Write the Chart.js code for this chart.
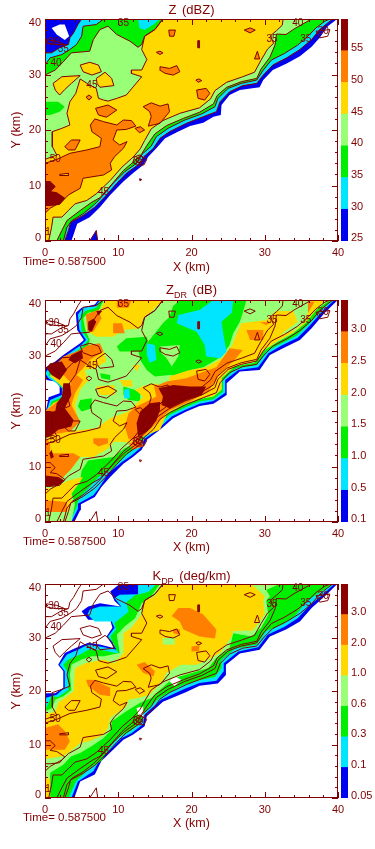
<!DOCTYPE html>
<html>
<head>
<meta charset="utf-8">
<style>
html,body{margin:0;padding:0;background:#fff}
#page{position:relative;width:375px;height:849px;overflow:hidden;font-family:"Liberation Sans",sans-serif;color:#800000}
canvas{position:absolute}
.ttl{position:absolute;left:45px;width:293px;text-align:center;font-size:13px;line-height:16px;word-spacing:2px}
.ttl sub{font-size:9px;line-height:0}
.time{position:absolute;left:23px;font-size:11.5px;line-height:14px;white-space:nowrap}
</style>
</head>
<body>
<div id="page">
  <canvas id="c1" width="375" height="280" style="left:0;top:0"></canvas>
  <canvas id="b1" width="34" height="280" style="left:341px;top:0"></canvas>
  <canvas id="c2" width="375" height="285" style="left:0;top:280px"></canvas>
  <canvas id="b2" width="34" height="285" style="left:341px;top:280px"></canvas>
  <canvas id="c3" width="375" height="284" style="left:0;top:565px"></canvas>
  <canvas id="b3" width="34" height="284" style="left:341px;top:565px"></canvas>
  <div class="ttl" style="top:2px">Z (dBZ)</div>
  <div class="ttl" style="top:282px">Z<sub>DR</sub> (dB)</div>
  <div class="ttl" style="top:568px">K<sub>DP</sub> (deg/km)</div>
  <div class="time" style="top:254px">Time= 0.587500</div>
  <div class="time" style="top:534px">Time= 0.587500</div>
  <div class="time" style="top:810px">Time= 0.587500</div>
</div>
<script src="https://cdn.jsdelivr.net/npm/chart.js@4"></script>
<script>
const BLUE='#0000f0',CYAN='#00e5ff',GREEN='#00ee00',LGREEN='#99ff77',YELLOW='#ffd800',ORANGE='#ff7f00',DARK='#8b0000',WHITE='#ffffff';
const TEXT='#800000';
const bandColors=[BLUE,CYAN,GREEN,LGREEN,YELLOW,ORANGE,DARK];

const zLevels=['25','30','35','40','45','50','55'];
const zdrLevels=['0.1','0.5','1.0','1.5','2.0','2.5','3.0'];
const kdpLevels=['0.05','0.1','0.3','0.6','1.0','2.0','3.0'];
const xTicks=[0,10,20,30,40];
const yTickLabels=['0','10','20','30','40'];

// Z field, contour polygons in km
const z25=[[3.6,0],[4.4,3.1],[6.1,4.3],[7.5,6.1],[8.9,8.3],[10.7,10.7],[12,12.2],[13.4,13.7],[14.1,15.2],[15.2,16.7],[16.4,18.5],[18,19.6],[19.8,20.7],[21.6,21.3],[23,22.4],[24,22.7],[24.1,24.5],[25.2,26.3],[26.6,27.2],[29.3,27.7],[29.8,29],[31.1,30.8],[33,32],[34.8,33.3],[36.4,35],[37.5,36.6],[38.6,38.7],[39.9,40],[0,40],[0,0]];
const z25Island=[[6.1,0],[7,1.9],[7.2,0]];
const zSpeck=[[12.9,11.2],[13.2,11.1],[13,10.8]];
const zHole=[[0.9,38.4],[2,39],[2.7,39],[3.3,36.9],[2.7,36.2],[1.6,37.2]];
const z30=[[2.7,0],[3.2,1.9],[3.5,3.4],[5.2,4.6],[6.8,6.1],[8.2,8],[9.8,10.4],[11.1,12.2],[12.7,13.7],[13.5,15.2],[14.8,16.7],[15.7,18.5],[17,19.7],[19.3,21.2],[21.6,22.4],[23.4,23.3],[23.9,25.1],[25.2,26.9],[27,28],[28.9,28.4],[29.8,29.9],[31.1,31.7],[33,33],[34.8,34.5],[36.4,36.3],[37.5,38.1],[38.6,39.3],[39.3,40],[5,40],[4.5,39],[3.9,37.5],[3.4,36.6],[3.2,35.4],[2,34.8],[0.9,33.9],[0,33.9],[0,0]];
const z35=[[2.5,0],[3,2.5],[3.7,3.7],[5.2,4.9],[6.6,6.4],[7.5,7.6],[9.3,10.4],[10.9,12.5],[12.5,14],[13.3,15.7],[14.5,17.1],[15.2,18.8],[16.8,20.3],[19.1,21.8],[21.4,22.9],[23.2,24.2],[23.6,25.7],[25,27.5],[26.8,28.4],[28.9,29],[29.8,30.8],[30.9,32.6],[32.7,33.8],[34.5,35.3],[35.9,36.9],[37,38.4],[38.2,39.6],[38.9,40],[8,40],[7,39],[5.2,38.7],[5,36.9],[4.3,35.4],[3.4,34.5],[2.3,33.6],[0.7,33],[0,31.7],[0,0]];
const z35Gap=[[12.7,40],[12.9,38.4],[13.6,38],[14.8,39],[15.7,40]];
const z40=[[1.6,0],[2.3,1.9],[3,3.7],[4.8,5.5],[6.4,7],[7.5,7.8],[9.1,10.2],[10.7,12.7],[12.3,14.5],[13.2,15.7],[13.9,17.2],[15,19.3],[16.6,20.8],[18.9,22.1],[21.1,23.2],[23,24.7],[23.5,26.2],[24.8,27.7],[26.8,28.7],[28.9,29.3],[29.5,31],[30.7,33.1],[31.4,35.3],[31.6,37.3],[32.9,37.2],[34,38.2],[36.4,40],[16.1,40],[15,38.1],[13.6,36.9],[13.2,35.4],[12.7,34.9],[11.6,36],[9.8,37.2],[8.6,38.7],[7.5,38.1],[6.6,36.3],[6.1,34.2],[3.6,33.9],[2.5,32.3],[1.4,30.8],[0,29.9],[0,0]];
const z40Gap=[[0,25.1],[1.8,25.1],[2.7,24.2],[2,23.3],[0.7,22.7],[0,22.7]];
const z45=[[0.5,0],[0.9,2.5],[1.1,4.3],[2.3,4.3],[3.2,5.5],[4.1,6.7],[5.7,7.3],[7,8.5],[8.9,10.9],[10.5,13.3],[12.1,15.2],[13,16.6],[13.6,18.1],[14.5,20.2],[16.1,21.7],[18.4,23],[21.1,24],[22.6,25.6],[23.2,27.1],[24.8,28.6],[26.8,29.5],[28.6,30.4],[29.5,32.6],[30.4,34.6],[31.2,35.6],[30.8,37],[31.6,37.9],[32.4,38.9],[32.5,40],[16.1,40],[15,38.1],[13.6,36.9],[13.2,34.5],[13.9,32.7],[13.2,30.8],[11.8,30.8],[11.8,30.2],[13.2,29.6],[11.1,26.3],[9.8,25.7],[8.6,25.2],[8,25.4],[7.3,25.7],[7,27.5],[6.1,28.1],[4.8,29.2],[4.2,26.6],[3.4,25.1],[3,23],[3.4,20.9],[2.3,20.3],[1,19.7],[1,17],[1.6,15.5],[0,14.7],[0,0]];
const z45A=[[4.8,31.7],[6.1,32.2],[7.3,31.7],[7.7,30.5],[6.4,29.9],[5.2,30.5]];
const z45B=[[7,29.3],[8.2,30.4],[9.1,29.3],[9.4,28],[7.5,27.7],[7.1,28.4]];
const z45C=[[1.1,28.4],[2.3,29.6],[4.8,29.8],[3.6,28.4],[2.7,27.3],[2,26.3],[1.4,27.2]];
const z50Main=[[0,14],[1.6,14.7],[3.4,15.8],[5.7,16.4],[7.5,17],[7.7,18.5],[6.4,19.7],[6.2,20.9],[6.8,22],[8,21.5],[9.8,20.9],[10.7,21.8],[11.8,21.7],[12.4,20.7],[11.1,20.1],[9.8,20],[9.3,18.2],[10.2,17.3],[11.2,17.9],[10.7,16.7],[9.5,15.2],[8.9,14],[9.1,12.8],[8,11.9],[5.2,11.3],[4.8,9.5],[3.2,8.3],[2.3,7.1],[0.7,5.9],[0,5]];
const z50List=[
  [[13.4,24.2],[14.5,24.9],[15.7,24.3],[16.8,24.7],[17,23.3],[15.7,21.2],[14.1,20.7],[14.5,22.4],[14.3,23.3]],
  [[6.9,23.9],[8.6,24.5],[9.8,23.6],[8.4,22.3],[7.3,22.7]],
  [[2.7,17],[3.6,18.2],[4.8,18.2],[4.1,16.4],[3.2,16.4]],
  [[15.7,31.4],[17,31.1],[18,31.6],[18.4,30.5],[17.5,29.9],[16.4,30.2],[15.8,30.7]],
  [[20.7,27.2],[22,27.5],[22.5,26.6],[21.8,25.4],[20.9,25.7]],
  [[16.9,38],[17.8,38],[17.6,36.9],[17,36.9]],
  [[27.2,38],[28,38.4],[28.7,38],[28,37.5]],
  [[28.6,32.8],[29,34.2],[29.3,32.8]],
  [[5.6,25.9],[6,26.3],[6.4,25.9],[6,25.4]],
  [[12.3,20.3],[13,20.6],[13.6,20],[12.9,19.5]],
  [[20.6,29],[21,29.2],[21.4,28.9],[20.9,28.6]],
  [[15.2,34],[15.7,34.2],[16.1,33.9],[15.7,33.6]]
];
const z50Gap=[[2,12],[3.2,12.2],[3.2,11.8],[2,11.8]];
const z55=[[0,10.7],[0.7,10.7],[1.4,9.8],[0.7,8.9],[1.6,8.7],[2.7,7.7],[2,6.6],[0.7,6.4],[0,6.4]];
const z55Bar=[[20.9,34.8],[21.1,34.8],[21.1,36.1],[20.9,36.1]];
const zNoise=[
  [[12.3,15.2],[12.9,15.5],[13.9,14.7],[13.5,13.7],[12.5,13.7],[12,14.3]],
  [[12.6,15],[13.3,14.6],[13,14],[12.4,14.4]],
  [[0.2,36.3],[1.6,36],[2.7,35.4],[1.4,35.4],[0.2,35.7]],
  [[37,37.8],[38.9,38.1],[38.6,36.9],[37.5,36.6]]
];
const contourText=['35','35','30','40','45','50','45','35','40','35','30','30','1'];
const contourX=[10.7,2.5,1.2,1.5,6.4,1.4,8,31,34.5,35.6,38,12.7,0.4];
const contourY=[39.3,34.5,35.8,32,28.1,14.8,8.7,36.3,39.2,36.4,37.8,14.3,1.6];

// ZDR field
const dr01=[[4,0],[4.8,2.1],[4.9,3.2],[6.8,4.5],[7.7,6.3],[8.9,8.1],[10.7,10.5],[12,11.7],[13.2,13],[13.9,14.8],[15.7,16.6],[17.5,18.7],[19.3,19.9],[21.1,20.9],[23,21.3],[24.8,22.9],[24.8,25],[26.6,27.1],[29.3,27.4],[30.7,30.1],[32.5,31.3],[34.8,32.8],[36.4,34.9],[38.2,37.7],[39.9,39.9],[39.9,40],[7.3,40],[6.8,39.2],[5,38.6],[4.2,37.7],[4.4,34.6],[5.3,32.8],[4.8,32.2],[2.5,30.1],[1.4,28.9],[0.1,27.9],[0,27.9],[0,26.2],[0.2,25.6],[1.4,25.3],[2,24.4],[2,23.2],[0.5,22.5],[0.1,19.9],[0,19.9],[0,0]];
const dr05=[[3.6,0],[4.5,2.4],[4.5,3.3],[6.6,4.8],[7.3,6],[8.6,8.7],[10.5,10.8],[11.8,12],[12.9,13.2],[13.6,15],[15.2,16.5],[17.3,19],[19.1,20.2],[21.1,21.3],[23,21.8],[24.6,23.3],[24.6,25.6],[26.4,27.4],[29.1,27.9],[30.5,30.4],[32.3,31.8],[34.5,33.2],[36.1,35.3],[37.9,38],[39.5,40],[7.5,40],[6.9,38.9],[5.2,38.6],[4.5,37.4],[4.7,34.6],[5.6,32.8],[5,32],[2.7,29.8],[1.6,28.6],[0.5,27.7],[0.2,27.1],[0,26.8],[0.5,25.9],[1.6,25],[2.3,24.1],[2.3,22.9],[0.7,22],[0.2,19.9],[0,19.9],[0,0]];
const dr10=[[3.4,0],[4.3,2.7],[4.7,4.5],[5.9,6],[7.3,8.1],[8.9,9.3],[10.5,11.4],[11.6,12.6],[12.7,13.6],[13.5,15.3],[15,16.9],[17,19.3],[18.9,20.5],[21.1,21.7],[23,22.1],[24.3,23.5],[24.3,25.6],[26.1,27.7],[28.9,28.3],[30.2,30.7],[32,32],[34.3,33.5],[35.9,35.5],[37.7,38.2],[39.3,40],[7.7,40],[7,38.6],[5.5,38],[4.9,37.1],[5,34.6],[5.9,32.8],[5.2,31.6],[2.9,29.5],[1.8,28.3],[0.7,27.4],[0.5,26.5],[1.8,25],[2.6,23.8],[2.6,22.6],[0.9,21.7],[0.5,19.9],[0,19.9],[0,0]];
const dr15=[[3.6,0],[4.1,3.3],[3.6,5.1],[4.8,7.2],[5,9.3],[5.9,11.1],[9.3,11.7],[10.9,13.3],[12,13.9],[13.4,15.4],[15,17.2],[16.8,19.6],[18.6,20.9],[21.1,22.1],[23,22.6],[24.1,23.8],[24.1,25.9],[25.9,28],[28.6,28.7],[30,31],[31.8,32.5],[33.9,34],[35.5,35.8],[37,38.2],[38.9,40],[8,40],[7.3,38],[5.9,37.7],[5.2,36.7],[5.5,34.6],[6.1,32.8],[5.8,31.3],[3.2,29.2],[2,28],[0.9,27.1],[0.7,26.2],[2.3,24.5],[2.9,23.2],[2.9,22.3],[1.1,21.4],[0.7,19.9],[0,19.9],[0,0]];
const drGreen=[
  [[18.4,40],[27.5,40],[27,37.7],[26.6,36.1],[25.7,34],[25.2,31.9],[24.1,29.8],[23,28.9],[21.6,27.9],[19.8,27.4],[18.9,26.2],[17,26.5],[15,26.2],[13.9,27.4],[13,29.2],[12.7,31.3],[13.9,32.2],[15,34],[16.1,35.8],[17,37],[17.5,38.9]],
  [[10.2,30.7],[9.8,31.6],[11.1,33.1],[13.9,33.4],[14.1,32.2],[13,30.7]],
  [[4.8,22],[6.4,22.3],[6.4,20.5],[5,19.9],[4.5,20.8]],
  [[10.7,24.4],[13,23.5],[13,21.7],[11.4,22],[10.7,22.9]],
  [[7.5,26.8],[8.9,26.5],[8.9,25.6],[7.7,25.9]],
  [[9.1,17.8],[10.2,18.4],[10.9,16.9],[9.5,16.6]]
];
const drLGreenIsle=[[15.7,31.6],[18.4,31.9],[18.2,29.8],[17.3,28],[16.6,29.5],[15.9,30.4]];
const drCyan=[
  [[23,40],[25.7,40],[25.5,37.7],[24.1,36.1],[24.4,33.4],[24.8,30.7],[23.9,29.5],[22,29.8],[21.8,31.9],[20.7,34.3],[18,35.8],[18.2,37.3],[21.1,38.2]],
  [[13.9,32.2],[15,31.9],[15.2,29.2],[14.3,28.7],[13.9,30.1]],
  [[10.8,23.8],[11.5,24.1],[11.6,22.3],[10.8,22.3]]
];
const drYellow=[
  [[8.2,40],[16.1,40],[15,38.5],[13.4,36.7],[13,34.9],[10.7,34.6],[9.3,33.4],[7,33.4],[5.9,34.3],[5.8,35.8],[6.6,37.3],[7.5,38]],
  [[17,26.2],[19.5,27.3],[22,27.9],[24.2,29.5],[25.5,31.7],[26.1,33.7],[26.8,35.8],[28.4,36.1],[30.2,36.4],[31.6,38],[33.9,38],[34.5,36.1],[33,34.6],[32,33.7],[34.1,34.6],[35.5,36.1],[36.4,40],[38.2,40],[37,38.2],[35.5,35.8],[33.9,34.2],[31.8,32.6],[30,31.1],[28.6,28.9],[25.9,28.1],[24.1,26],[24.1,23.9],[23,22.7],[21.1,22.2],[18.6,21],[16.8,19.7]],
  [[0,14.2],[0.7,15.7],[3.6,16.4],[7,16.9],[8.9,18.7],[11.4,19.9],[12.3,21.1],[13.4,22.6],[12.3,23.8],[13.4,24.5],[15.2,25],[16.6,23.2],[17,20.5],[15.7,16.6],[13.4,15.4],[11.8,14.3],[9.5,14.5],[8.4,13],[6.6,11.7],[4.8,11.7],[3.6,9.6],[2,7.5],[0,6.3]],
  [[0,6],[1.4,6.3],[3.2,7.5],[5.2,8.1],[3.6,5.1],[3.6,3.3],[3.2,1.8],[0,1.8]],
  [[5.8,31.3],[8,30.7],[8.4,28.9],[6.8,27.7],[5.4,27.4],[5.9,25.6],[4.8,23.8],[4.1,21.1],[4.5,18.4],[3.4,16.3],[0,15.4],[0,19.9],[1.1,21.4],[3,22.6],[3,23.2],[2.3,24.5],[0.8,26.2],[0.9,27.1],[3.2,29.2]],
  [[12,28.3],[13,28.3],[12.5,27.1]],
  [[7,24.4],[9.5,24.7],[9.5,22.9],[7.5,22.9]],
  [[10.2,25.6],[11.8,25.6],[12,24.4],[10.7,24.4]]
];
const drOrange=[
  [[0,15.4],[0.7,14.2],[0.7,12.4],[2.5,12.4],[3.9,12.4],[4.8,11.7],[3.6,9.6],[2.5,8.1],[1.6,6.6],[0,6.3]],
  [[0,3.9],[3,3.6],[3,1.8],[0,1.8]],
  [[0,19.9],[1.4,21.4],[2.7,22.6],[3.6,25],[2.5,26.5],[1.6,25.9],[1.1,27.7],[2.5,29.8],[4.8,31],[5.9,31.9],[7.5,32.2],[8,30.7],[6.1,29.2],[5.2,27.7],[4.3,26.5],[5.2,25.6],[4.1,23.2],[3.6,21.1],[4.8,18.1],[3.4,16.3],[0,15.5]],
  [[5.6,37.4],[7.3,38.3],[7.7,36.7],[6.6,34.3],[5.8,34.3]],
  [[9.3,35.8],[10.5,35.8],[10.9,34],[9.3,34]],
  [[9.8,40],[11.8,40],[11.4,38.6],[9.8,38.6]],
  [[10.9,17.2],[11.4,19.6],[12.5,20.8],[13.9,21.7],[15.2,22.6],[14.9,24.4],[16.6,25.3],[19.3,25.9],[21.1,26.8],[23.4,27.9],[25.2,31.3],[27,31],[25.7,28.9],[23.9,26.8],[22.3,23.5],[19.8,21.7],[17,20.1],[15.2,17.8],[14.1,16.3],[12.5,14.3],[11.4,15]],
  [[6.6,15.1],[8.6,15.1],[8.6,14.2],[7.3,13.6],[6.6,14.2]],
  [[27.5,34.6],[29.8,34.6],[29.8,32.8],[28,32.8]],
  [[29.3,36],[30.9,36],[30.2,35.5]],
  [[35.9,39.7],[36.8,39.7],[35.9,37.7]],
  [[11.4,14.2],[13.4,14.8],[13.4,13.6],[12,13]]
];
const drDark=[
  [[0,19.9],[1.4,19.9],[1.6,21.4],[2.3,22.6],[2.5,25],[3.4,25],[3.6,22.9],[2.7,20.5],[3.9,18.4],[3.6,17.2],[1.8,16.6],[0.7,15.4],[0,15.1]],
  [[0.7,28.6],[2.3,28.9],[3,27.4],[2,25.6],[0.9,26.5],[0.2,27.7]],
  [[3.6,30.1],[5,31],[5.2,29.5],[4.1,28.6],[3.2,29.2]],
  [[0,8.4],[1.8,8.1],[2.7,7.5],[1.8,6.6],[0,6.4]],
  [[5.9,36.1],[6.6,36.6],[7,36.1],[6.4,34.3],[5.9,34.6]],
  [[7,38],[7.8,38],[7.3,37.2]],
  [[12.5,17.8],[13,19.9],[14.3,21.4],[15.7,21.6],[15.7,20.2],[15.2,18.3],[13.9,16.3],[12.7,15.4]],
  [[15.5,24.1],[17.5,24.7],[19.8,24.4],[22,24.4],[21.4,22.9],[19.3,22],[17,20.5],[15.9,21.1],[16.1,22.6]],
  [[0.9,13],[1.2,11.7],[0.8,11.4],[0.6,12.4]]
];

// KDP field
const kd005=[[4,0],[4.8,3.1],[6.8,4.4],[7.7,6.9],[9.3,9],[10.7,10.9],[12,11.8],[13.6,13.4],[13.9,15.3],[16.1,18],[19.3,19.8],[21.1,21],[23.6,21.4],[24.7,23],[24.7,24.9],[26.6,27],[29.3,27.7],[30.7,30.2],[32.9,31.5],[34.8,33],[36.4,35.5],[38.2,37.7],[39.9,40],[10.2,40],[8.9,38.6],[9.5,36.8],[10.3,35.8],[7.5,36.4],[5.9,35.8],[5,34.9],[5.9,33.3],[8.9,33.3],[9.2,31.8],[8.4,30.2],[9.5,28],[7.5,28.7],[5.9,29],[4.1,28],[2.7,27.1],[1.8,24.9],[2.5,23.7],[2.5,20.6],[1.4,19.6],[0,19.6],[0,0]];
const kd01=[[3.6,0],[4.5,3.1],[6.6,5],[7.5,7.2],[9.1,9.3],[10.5,11.2],[11.8,12.1],[13.4,13.8],[13.6,15.6],[15.9,18.4],[19.1,20.4],[21.1,21.5],[23.4,21.9],[24.4,23.7],[24.4,25.2],[26.4,27.4],[29.1,28.2],[30.4,30.5],[32.7,32],[34.5,33.6],[36.1,36],[37.9,38],[39.5,40],[13.9,40],[12.7,39.9],[12.7,38.1],[10.2,38],[9.5,37.4],[10.4,35.8],[7.5,35.8],[6.1,35.2],[5.8,34.3],[6.8,33],[9.1,33],[9.5,31.8],[8.6,30.2],[9.8,27.7],[7.5,28.3],[5.9,28.7],[4.5,27.7],[3,26.8],[2,24.9],[2.7,23.7],[2.7,20.6],[1.6,19.3],[0,18.7],[0,0]];
const kd03=[[3.2,0],[4.2,3.1],[6.1,5.6],[7.7,6.9],[8.9,9.6],[10.2,11.5],[11.6,12.5],[13.2,14.3],[13.4,15.8],[15.6,18.7],[18.6,21],[21.1,22],[23.2,22.6],[24.1,24.3],[24.1,25.8],[25.9,27.9],[28.9,28.7],[30.2,31.2],[32.5,32.5],[34.3,34.3],[35.9,37],[37.7,38.6],[39.3,40],[15.2,40],[14.1,38.5],[12.3,37.9],[11.1,36.6],[11.4,34.8],[9.5,32.7],[9.7,31.5],[8.9,30.2],[10,27],[7.5,27.7],[5.9,27.7],[4.8,26.8],[3.2,25.9],[2.5,24.9],[3.2,23.3],[3.2,20.2],[1.8,18.9],[0.9,19],[0,16.4],[0,0]];
const kd06=[[0.7,0],[0.7,2.5],[0.7,4.7],[2.5,6.2],[3.6,7.8],[4.8,8.4],[6.4,9.7],[8,11.2],[8.9,12.5],[9.1,14.3],[11.1,16.2],[13,17.8],[14.5,18.7],[15.2,19.6],[17,21.8],[18.4,22.7],[20.2,23.4],[22.3,24.3],[23.4,26.2],[25.2,28],[25.7,30.8],[28.2,30.2],[29.5,31.8],[30.5,34.3],[30.2,36.8],[30.7,37.7],[30.2,38.9],[32,40],[15.7,40],[14.5,37.7],[13.2,36.4],[12.3,33.6],[10.9,32.1],[9.8,30.5],[10.2,27.1],[8,26.5],[6.4,26.5],[5,25.9],[3.6,24.9],[3.4,23.1],[3.6,20.2],[2.5,19],[1.4,18.4],[1,16.8],[0,16.2],[0,0]];
const kd10=[[0,7.3],[2.5,7.8],[3.4,8.7],[4.8,10.3],[6.1,10.6],[8,11.8],[8.6,13.1],[8.9,15],[11.1,17.1],[11.4,18.4],[12.7,18.7],[14.3,19.3],[16.1,22.1],[16.6,23.4],[18.6,24.9],[20.7,24.9],[22.3,25.9],[23.9,27.1],[25.5,30.2],[25.7,31.2],[28.4,31.3],[30,34.3],[29.8,36.8],[30,37.7],[28.2,40],[16.1,40],[15,37.7],[13.6,36.8],[13.2,34.3],[11.8,31.8],[10.7,30.8],[10.7,27.1],[9.5,25.2],[8,25.9],[5.5,25.2],[4.1,24.3],[3.9,19.9],[2.7,18.7],[1.8,17.8],[1.4,16.2],[0,15.6]];
const kd10Low=[[0,3.7],[0.7,3.7],[0.7,0],[0,0]];
const kd06Isle=[[16.1,29.9],[17.7,29.9],[17.7,28.7],[16.1,28.7]];
const kdOrange=[
  [[17.3,34],[18.2,35.5],[19.8,35.5],[21.6,34.3],[23.4,31.5],[23.2,29.8],[21.1,30.2],[18.9,31.5],[18.4,33]],
  [[0,13.1],[1.8,13.8],[2.7,12.5],[3.4,10.6],[2.7,9],[0,9]],
  [[5.6,22.1],[6.6,22.1],[8.9,20.6],[8.9,19],[7.5,19.3],[5.9,20.9]],
  [[12.5,24.9],[13.6,25.4],[15,23.7],[14.8,22.7],[13.4,23.4]],
  [[20,28.3],[21.1,28.5],[21,27.5],[20,27.4]],
  [[17.5,31.5],[18.4,31.5],[18.4,30.5],[17.5,30.8]]
];
const kdWhite=[
  [[17,21.8],[17.7,22.7],[18.6,22.1],[17.7,20.9]],
  [[12.5,16.8],[13.4,17.1],[13.4,15],[12.7,15.6]]
];

const layer=(list,color)=>list.map(p=>({p,color}));
const zLayers=[
  {p:z25,color:BLUE},{p:z25Island,color:BLUE},{p:zSpeck,color:BLUE},{p:zHole,color:WHITE},
  {p:z30,color:CYAN},{p:z35,color:GREEN},{p:z35Gap,color:CYAN},
  {p:z40,color:LGREEN},{p:z40Gap,color:GREEN},
  {p:z45,color:YELLOW},...layer([z45A,z45B,z45C],YELLOW),
  {p:z50Main,color:ORANGE},...layer(z50List,ORANGE),{p:z50Gap,color:YELLOW},
  {p:z55,color:DARK}
];
const zdrLayers=[
  {p:dr01,color:BLUE},{p:dr05,color:CYAN},{p:dr10,color:GREEN},{p:dr15,color:LGREEN},
  ...layer(drGreen,GREEN),{p:drLGreenIsle,color:LGREEN},...layer(drCyan,CYAN),
  ...layer(drYellow,YELLOW),...layer(drOrange,ORANGE),...layer(drDark,DARK)
];
const kdpLayers=[
  {p:kd005,color:BLUE},{p:kd01,color:CYAN},{p:kd03,color:GREEN},{p:kd06,color:LGREEN},
  {p:kd10,color:YELLOW},{p:kd10Low,color:YELLOW},{p:kd06Isle,color:LGREEN},
  ...layer(kdOrange,ORANGE),...layer(kdWhite,WHITE)
];
const contours=[z25Island,zSpeck,z30,z35,z40,z45,z45A,z45B,z45C,z50Main,...z50List,z50Gap,z55,z55Bar,...zNoise];

const closed=a=>[...a,a[0]].map(([x,y])=>({x,y}));

const axisFrame={
  id:'axisFrame',
  afterDatasetsDraw(chart){
    const {ctx,chartArea:a,scales:{x,y}}=chart;
    ctx.save();
    ctx.strokeStyle=TEXT;
    ctx.lineWidth=1;
    ctx.beginPath();
    for(let v=0;v<=40;v+=2){
      const len=v%10===0?6:3;
      const px=Math.round(x.getPixelForValue(v))+.5,py=Math.round(y.getPixelForValue(v))+.5;
      ctx.moveTo(px,a.bottom);ctx.lineTo(px,a.bottom-len);
      ctx.moveTo(px,a.top);ctx.lineTo(px,a.top+len);
      ctx.moveTo(a.left,py);ctx.lineTo(a.left+len,py);
      ctx.moveTo(a.right,py);ctx.lineTo(a.right-len,py);
    }
    ctx.stroke();
    ctx.strokeRect(a.left+.5,a.top+.5,a.right-a.left-1,a.bottom-a.top-1);
    ctx.fillStyle=TEXT;
    ctx.font='10px "Liberation Sans"';
    ctx.textAlign='center';
    ctx.textBaseline='middle';
    contourText.forEach((t,i)=>ctx.fillText(t,x.getPixelForValue(contourX[i]),y.getPixelForValue(contourY[i])));
    ctx.restore();
  }
};

function makePanel(id,layers,top,bottom,h,xGap){
  const datasets=[];
  layers.forEach(l=>datasets.push({data:closed(l.p),showLine:true,fill:'shape',backgroundColor:l.color,borderWidth:0,pointRadius:0}));
  contours.forEach(p=>datasets.push({data:closed(p),showLine:true,fill:false,borderColor:TEXT,borderWidth:1,pointRadius:0}));
  datasets.forEach((d,i)=>d.order=datasets.length-i);
  return new Chart(document.getElementById(id),{
    type:'scatter',
    data:{datasets},
    options:{
      responsive:false,animation:false,events:[],
      layout:{padding:{left:0,right:37,top,bottom:h-bottom-xGap}},
      plugins:{legend:{display:false},tooltip:{enabled:false}},
      scales:{
        x:{type:'linear',min:0,max:40,grid:{display:false,drawTicks:false},border:{display:false},
          afterBuildTicks:s=>{s.ticks=xTicks.map(value=>({value}));},
          afterFit:s=>{s.height=xGap;},
          ticks:{color:TEXT,padding:5,maxRotation:0,font:{family:'Liberation Sans',size:11}},
          title:{display:true,text:'X (km)',color:TEXT,padding:0,font:{family:'Liberation Sans',size:12.5}}},
        y:{type:'linear',min:0,max:40,grid:{display:false,drawTicks:false},border:{display:false},
          afterBuildTicks:s=>{s.ticks=[0.5,10,20,30,39.3].map(value=>({value}));},
          afterFit:s=>{s.width=45;},
          ticks:{color:TEXT,padding:4,callback:(v,i)=>yTickLabels[i],font:{family:'Liberation Sans',size:11}},
          title:{display:true,text:'Y (km)',color:TEXT,padding:{top:9,bottom:0},font:{family:'Liberation Sans',size:12.5}}}
      }
    },
    plugins:[axisFrame]
  });
}

function makeBar(id,levels,top,bottom,h){
  return new Chart(document.getElementById(id),{
    type:'bar',
    data:{labels:[''],datasets:levels.map((l,i)=>({data:[1],backgroundColor:bandColors[i],barPercentage:1,categoryPercentage:1,borderWidth:0}))},
    options:{
      responsive:false,animation:false,events:[],
      layout:{padding:{left:0,right:0,top,bottom:h-bottom}},
      plugins:{legend:{display:false},tooltip:{enabled:false}},
      scales:{
        x:{stacked:true,display:false},
        y:{stacked:true,position:'right',min:0,max:7,grid:{display:false,drawTicks:false},border:{display:false},
          afterBuildTicks:s=>{s.ticks=levels.map((l,i)=>({value:i+0.08}));},
          afterFit:s=>{s.width=27;},
          ticks:{color:TEXT,padding:3,autoSkip:false,callback:(v,i)=>levels[i],font:{family:'Liberation Sans',size:11}}}
      }
    }
  });
}

makePanel('c1',zLayers,19,241,280,34);
makePanel('c2',zdrLayers,20,242,285,33);
makePanel('c3',kdpLayers,19,233,284,33);
makeBar('b1',zLevels,19,241,280);
makeBar('b2',zdrLevels,20,242,285);
makeBar('b3',kdpLevels,19,233,284);
</script>
</body>
</html>
